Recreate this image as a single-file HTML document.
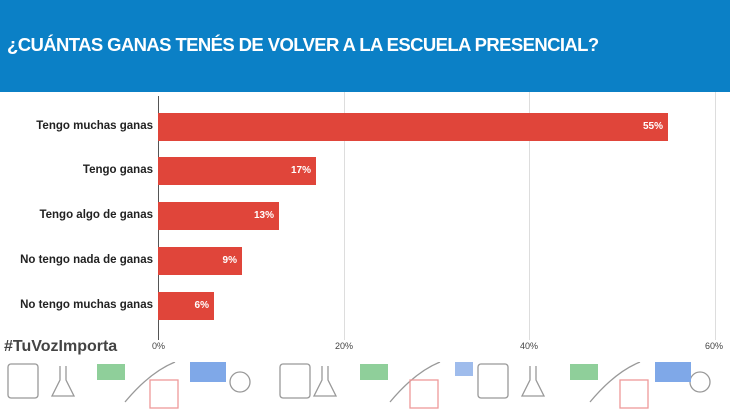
<!DOCTYPE html>
<html><head><meta charset="utf-8"><style>
body{margin:0;width:730px;height:410px;overflow:hidden;background:#fff;font-family:"Liberation Sans",sans-serif;position:relative}
.hdr{position:absolute;left:0;top:0;width:730px;height:92px;background:#0b80c6}
.hdr div{position:absolute;left:7px;top:34px;color:#fff;font-weight:bold;font-size:18.5px;letter-spacing:-0.6px}
.lab{position:absolute;right:577px;font-size:11.5px;font-weight:bold;color:#222;text-align:right;white-space:nowrap}
.bar{position:absolute;left:158px;height:28px;background:#e0453a}
.bar span{position:absolute;right:5px;top:8px;color:#fff;font-size:10px;font-weight:bold}
.grid{position:absolute;top:92px;height:248px;width:1px;background:#ddd}
.tick{position:absolute;top:341px;font-size:9px;color:#444}
</style></head><body>
<div class="hdr"><div>¿CUÁNTAS GANAS TENÉS DE VOLVER A LA ESCUELA PRESENCIAL?</div></div>
<div class="grid" style="left:344px"></div>
<div class="grid" style="left:529px"></div>
<div class="grid" style="left:715px"></div>
<div class="grid" style="left:158px;background:#555;top:96px;height:244px"></div>
<div class="lab" style="top:120px">Tengo muchas ganas</div>
<div class="lab" style="top:164px">Tengo ganas</div>
<div class="lab" style="top:209px">Tengo algo de ganas</div>
<div class="lab" style="top:254px">No tengo nada de ganas</div>
<div class="lab" style="top:299px">No tengo muchas ganas</div>
<div class="bar" style="top:113px;width:510px"><span>55%</span></div>
<div class="bar" style="top:157px;width:158px"><span>17%</span></div>
<div class="bar" style="top:202px;width:121px"><span>13%</span></div>
<div class="bar" style="top:247px;width:84px"><span>9%</span></div>
<div class="bar" style="top:292px;width:56px"><span>6%</span></div>
<div class="tick" style="left:152px">0%</div>
<div class="tick" style="left:335px">20%</div>
<div class="tick" style="left:520px">40%</div>
<div class="tick" style="left:705px">60%</div>
<div style="position:absolute;left:4px;top:338px;font-size:16px;font-weight:bold;color:#444">#TuVozImporta</div>
<svg style="position:absolute;left:0;top:362px" width="730" height="48">
<g fill="none" stroke="#999" stroke-width="1.3">
<rect x="8" y="2" width="30" height="34" rx="3"/><rect x="280" y="2" width="30" height="34" rx="3"/><rect x="478" y="2" width="30" height="34" rx="3"/>
<path d="M60 4 v14 l-8 16 h22 l-8 -16 v-14"/><path d="M322 4 v14 l-8 16 h22 l-8 -16 v-14"/><path d="M530 4 v14 l-8 16 h22 l-8 -16 v-14"/>
<path d="M125 40 Q150 10 175 0"/><path d="M390 40 Q415 10 440 0"/><path d="M590 40 Q615 10 640 0"/>
<circle cx="240" cy="20" r="10"/><circle cx="700" cy="20" r="10"/>
</g>
<g fill="none" stroke="#e99" stroke-width="1.3"><rect x="150" y="18" width="28" height="28"/><rect x="410" y="18" width="28" height="28"/><rect x="620" y="18" width="28" height="28"/></g>
<rect x="97" y="2" width="28" height="16" fill="#8fcf9a"/><rect x="360" y="2" width="28" height="16" fill="#8fcf9a"/><rect x="570" y="2" width="28" height="16" fill="#8fcf9a"/>
<rect x="190" y="0" width="36" height="20" fill="#7fa8e8"/><rect x="455" y="0" width="18" height="14" fill="#9fbcec"/><rect x="655" y="0" width="36" height="20" fill="#7fa8e8"/>
</svg>
</body></html>
